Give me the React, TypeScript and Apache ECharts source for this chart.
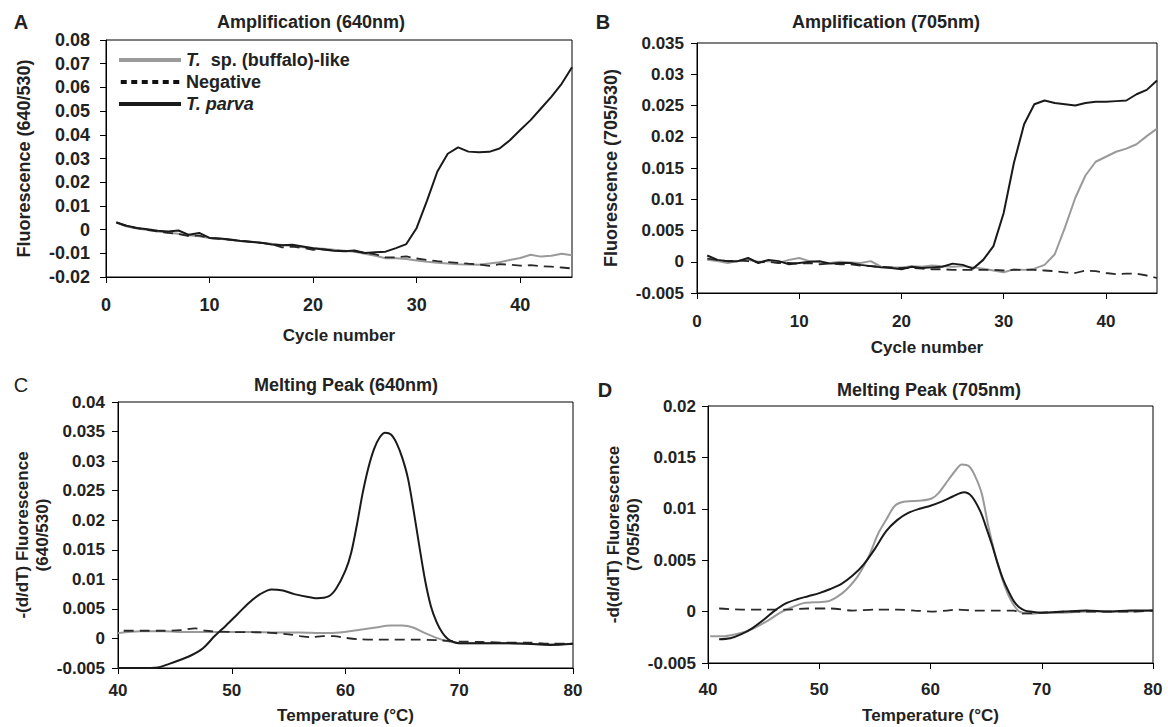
import React, { useEffect, useRef } from "react";
import * as echarts from "echarts";

// ---------- Data ----------
const cycles = Array.from({ length: 45 }, (_, i) => i + 1);

// Panel A – Amplification (640nm)
const ampA_parva = [0.003, 0.0016, 0.0007, 0.0001, -0.0005, -0.0008, -0.0004, -0.0022, -0.0014, -0.0035, -0.0038, -0.0042, -0.0048, -0.0051, -0.0055, -0.0063, -0.0066, -0.0064, -0.0071, -0.0079, -0.0084, -0.0089, -0.0091, -0.0088, -0.0099, -0.0096, -0.0093, -0.0078, -0.0061, 0.0007, 0.0122, 0.0245, 0.032, 0.0347, 0.0329, 0.0326, 0.0328, 0.0342, 0.0377, 0.042, 0.0462, 0.0511, 0.056, 0.0615, 0.0685];
const ampA_buffalo = [0.003, 0.0013, 0.0005, -0.0002, -0.0008, -0.0013, -0.0018, -0.0024, -0.0028, -0.0035, -0.0039, -0.0044, -0.0048, -0.0052, -0.0057, -0.006, -0.0065, -0.0069, -0.0074, -0.0078, -0.0081, -0.0085, -0.0089, -0.0094, -0.0102, -0.011, -0.0121, -0.0121, -0.0124, -0.013, -0.0136, -0.014, -0.0143, -0.0146, -0.0147, -0.0148, -0.0143, -0.0138, -0.0128, -0.012, -0.0106, -0.0114, -0.011, -0.0102, -0.0108];
const ampA_negative = [0.0031, 0.0014, 0.0006, -0.0001, -0.0008, -0.0014, -0.0019, -0.0027, -0.0025, -0.0036, -0.0039, -0.0043, -0.0047, -0.0052, -0.0056, -0.0062, -0.0075, -0.0072, -0.0077, -0.0085, -0.0083, -0.0088, -0.0091, -0.0092, -0.0098, -0.0104, -0.0117, -0.0117, -0.0113, -0.0122, -0.0128, -0.0133, -0.0137, -0.014, -0.0144, -0.0147, -0.0153, -0.0146, -0.0148, -0.0152, -0.015, -0.0155, -0.0156, -0.016, -0.0164];

// Panel B – Amplification (705nm)
const ampB_parva = [0.001, 0.0003, 0.0001, 0.0001, 0.0006, -0.0002, 0.0003, 0.0001, -0.0004, -0.0002, 0, 0.0001, -0.0003, -0.0002, -0.0002, -0.0005, -0.0007, -0.0009, -0.001, -0.0012, -0.0008, -0.001, -0.0009, -0.0008, -0.0003, -0.0005, -0.0011, 0.0003, 0.0025, 0.0078, 0.0158, 0.022, 0.0252, 0.0258, 0.0254, 0.0252, 0.025, 0.0254, 0.0256, 0.0256, 0.0257, 0.0258, 0.0268, 0.0275, 0.029];
const ampB_buffalo = [0.0003, 0.0001, -0.0002, 0.0001, 0.0003, 0, 0.0001, -0.0002, 0.0003, 0.0006, 0.0001, -0.0001, -0.0002, 0, -0.0001, -0.0002, 0.0001, -0.0008, -0.0009, -0.0009, -0.0007, -0.0008, -0.0006, -0.0007, -0.0008, -0.0007, -0.0009, -0.0011, -0.0014, -0.0017, -0.0012, -0.0013, -0.0011, -0.0005, 0.0012, 0.0055, 0.0102, 0.0138, 0.016, 0.0168, 0.0176, 0.0181, 0.0188, 0.0201, 0.0213];
const ampB_negative = [0.0005, 0.0003, 0.0001, 0.0002, 0.0001, -0.0001, 0, -0.0002, -0.0002, -0.0003, -0.0002, -0.0004, -0.0003, -0.0004, -0.0004, -0.0006, -0.0007, -0.0008, -0.0009, -0.001, -0.001, -0.0011, -0.0012, -0.0012, -0.0013, -0.0013, -0.0013, -0.0013, -0.0013, -0.0014, -0.0013, -0.0013, -0.0013, -0.0014, -0.0015, -0.0017, -0.0018, -0.0014, -0.0015, -0.0018, -0.002, -0.0019, -0.0019, -0.0022, -0.0026];

// Panel C – Melting Peak (640nm)
const tempC_parva = [40, 42, 43.5, 44.5, 45.5, 46.5, 47.5, 48.5, 49.5, 50.5, 51.5, 52.5, 53.5, 54.5, 55.5, 56.5, 57.5, 58.5, 59.2, 60, 60.5, 61, 61.5, 62, 62.5, 63, 63.5, 64, 64.5, 65, 65.5, 66, 66.5, 67, 67.5, 68, 68.5, 69, 69.5, 70, 72, 74, 76, 78, 80];
const meltC_parva = [-0.005, -0.005, -0.0049, -0.0043, -0.0036, -0.0028, -0.0016, 0.0004, 0.0022, 0.0041, 0.006, 0.0075, 0.0083, 0.0081, 0.0075, 0.0071, 0.0068, 0.0071, 0.0085, 0.0115, 0.0145, 0.0192, 0.0245, 0.0288, 0.032, 0.034, 0.0348, 0.0345, 0.033, 0.0305, 0.027, 0.0215, 0.0155, 0.0098, 0.0055, 0.0028, 0.001, -0.0001, -0.0006, -0.0008, -0.0008, -0.0008, -0.0009, -0.0011, -0.0009];
const tempC_buffalo = [40, 42, 44, 46, 48, 50, 52, 54, 56, 58, 59.5, 61, 62.5, 64, 65, 66, 67, 68, 69, 70, 72, 74, 76, 78, 80];
const meltC_buffalo = [0.0009, 0.0012, 0.0012, 0.0011, 0.0011, 0.0011, 0.0011, 0.001, 0.001, 0.0009, 0.001, 0.0014, 0.0018, 0.0022, 0.0022, 0.0018, 0.0009, 0.0001, -0.0005, -0.0008, -0.0008, -0.0008, -0.0009, -0.001, -0.0009];
const tempC_negative = [40.5, 42, 44, 45.5, 46.8, 47.7, 50, 53, 55, 56, 57, 58, 59, 60, 61, 63, 66, 68, 70, 72, 74, 76, 78, 80];
const meltC_negative = [0.0013, 0.0013, 0.0013, 0.0014, 0.0017, 0.0013, 0.0011, 0.001, 0.0007, 0.0004, 0.0002, 0.0004, 0.0004, 0.0001, -0.0001, -0.0002, -0.0002, -0.0003, -0.0005, -0.0006, -0.0007, -0.0007, -0.0009, -0.0009];

// Panel D – Melting Peak (705nm)
const tempD_parva = [41, 42, 43, 44, 45, 46, 47, 48, 49, 50, 51, 52, 53, 54, 55, 56, 57, 58, 59, 60, 61, 62, 63, 63.7, 64.5, 65, 65.5, 66, 66.5, 67, 67.5, 68, 68.5, 69, 70, 72, 74, 76, 78, 80];
const meltD_parva = [-0.0027, -0.0026, -0.0022, -0.0016, -0.0008, 0.0001, 0.0008, 0.0012, 0.0015, 0.0018, 0.0022, 0.0027, 0.0035, 0.0046, 0.0061, 0.0078, 0.0089, 0.0096, 0.01, 0.0103, 0.0107, 0.0112, 0.0116, 0.0112, 0.0097, 0.0082, 0.0066, 0.0048, 0.0032, 0.002, 0.001, 0.0004, 0.0001, 0, -0.0001, 0, 0.0001, 0, 0.0001, 0.0001];
const tempD_buffalo = [40.2, 41.3, 42.5, 43.5, 44.5, 45.5, 46.5, 47.5, 48.5, 49.5, 50.8, 51.7, 52.5, 53.5, 54.5, 55.3, 56, 56.8, 57.7, 59.2, 60.1, 60.7, 61.6, 62.3, 62.8, 63.5, 64, 64.6, 65.2, 65.8, 66.5, 67, 67.5, 68, 69, 70, 72, 74, 76, 78, 80];
const meltD_buffalo = [-0.0024, -0.0024, -0.0022, -0.0019, -0.0014, -0.0008, -0.0001, 0.0004, 0.0008, 0.0009, 0.001, 0.0015, 0.0022, 0.0035, 0.0055, 0.0076, 0.0089, 0.0103, 0.0107, 0.0108, 0.011, 0.0115, 0.0128, 0.0138, 0.0143, 0.0141, 0.0132, 0.0115, 0.0083, 0.0056, 0.003, 0.0016, 0.0006, 0, -0.0002, -0.0001, -0.0001, 0, 0, 0, 0.0001];
const tempD_negative = [41, 43, 45, 47, 49, 51, 53, 55, 57, 58.6, 60.1, 61.5, 62.5, 64, 66, 67.5, 68.2, 70, 72, 74, 76, 78, 80];
const meltD_negative = [0.0003, 0.0002, 0.0002, 0.0002, 0.0003, 0.0003, 0.0001, 0.0002, 0.0002, 0.0001, 0, 0.0001, 0.0002, 0.0001, 0.0001, 0.0001, -0.0002, -0.0001, 0, 0, 0, 0, 0.0001];

const seriesNames = ["T. sp. (buffalo)-like", "Negative", "T. parva"];
const panelTitles = ["Amplification (640nm)", "Amplification (705nm)", "Melting Peak (640nm)", "Melting Peak (705nm)"];
const panelLetters = ["A", "B", "C", "D"];
const yNames = ["Fluorescence (640/530)", "Fluorescence (705/530)", "-(d/dT) Fluorescence\n(640/530)", "-d(d/dT) Fluorescence\n(705/530)"];
const xNames = ["Cycle number", "Cycle number", "Temperature (°C)", "Temperature (°C)"];

// ---------- Styling ----------
const FONT = '"Liberation Sans", Arial, sans-serif';
const TXT = "#222";
const GRAY = "#9a9a9a";
const BLACK = "#1a1a1a";
const DASH = "#2a2a2a";

const zip = (xs: number[], ys: number[]) => xs.map((x, i) => [x, ys[i]]);

export default function App() {
  const ref = useRef<HTMLDivElement>(null);
  useEffect(() => {
    if (!ref.current) return;
    const chart = echarts.init(ref.current, undefined, { renderer: "svg" });

    const grids = [
      { left: 106, top: 40, width: 466, height: 237 },
      { left: 697, top: 43, width: 460, height: 250 },
      { left: 118, top: 402, width: 455, height: 266 },
      { left: 708, top: 406, width: 445, height: 257 },
    ];
    const xRanges = [
      { min: 0, max: 45, interval: 10 },
      { min: 0, max: 45, interval: 10 },
      { min: 40, max: 80, interval: 10 },
      { min: 40, max: 80, interval: 10 },
    ];
    const yRanges = [
      { min: -0.02, max: 0.08, interval: 0.01 },
      { min: -0.005, max: 0.035, interval: 0.005 },
      { min: -0.005, max: 0.04, interval: 0.005 },
      { min: -0.005, max: 0.02, interval: 0.005 },
    ];
    const tickFont = [18, 17, 17, 17];
    const xLabelMargins = [19, 20, 14, 18];
    const xNameGaps = [50, 46, 39, 44];
    const yLabelMargins = [16, 13, 13, 12];
    const yNameGaps = [72, 76, 64, 64];

    const axisCommon = {
      axisTick: { show: true, inside: false, length: 6, lineStyle: { color: "#000" } },
      splitLine: { show: false },
    };

    const xAxis = grids.map((_, i) => ({
      type: "value",
      gridIndex: i,
      ...xRanges[i],
      ...axisCommon,
      axisLine: { show: true, onZero: false, lineStyle: { color: "#000", width: 1 } },
      axisLabel: {
        showMaxLabel: i < 2 ? false : true,
        margin: xLabelMargins[i],
        fontSize: tickFont[i],
        fontWeight: "bold",
        color: TXT,
        fontFamily: FONT,
      },
      name: xNames[i],
      nameLocation: "middle",
      nameGap: xNameGaps[i],
      nameTextStyle: { fontSize: 17, fontWeight: "bold", color: TXT, fontFamily: FONT },
    }));

    const yAxis = grids.map((_, i) => ({
      type: "value",
      gridIndex: i,
      ...yRanges[i],
      ...axisCommon,
      axisLine: { show: true, onZero: false, lineStyle: { color: "#000", width: 1 } },
      axisLabel: {
        margin: yLabelMargins[i],
        fontSize: tickFont[i],
        fontWeight: "bold",
        color: TXT,
        fontFamily: FONT,
      },
      name: yNames[i],
      nameLocation: "middle",
      nameRotate: 90,
      nameGap: yNameGaps[i],
      nameTextStyle: {
        fontSize: i < 2 ? 18 : 17,
        lineHeight: 20,
        fontWeight: "bold",
        color: TXT,
        fontFamily: FONT,
      },
    }));

    const mk = (name: string, idx: number, xs: number[], ys: number[], smooth: boolean) => {
      const isNeg = name === "Negative";
      const color = name === "T. parva" ? BLACK : isNeg ? DASH : GRAY;
      return {
        type: "line",
        name,
        xAxisIndex: idx,
        yAxisIndex: idx,
        data: zip(xs, ys),
        symbol: "none",
        showSymbol: false,
        smooth: smooth ? 0.3 : false,
        z: name === "T. parva" ? 4 : isNeg ? 3 : 2,
        itemStyle: { color },
        lineStyle: isNeg
          ? { color, width: 1.8, type: [10, 6] }
          : { color, width: 2 },
      };
    };

    const series = [
      mk(seriesNames[0], 0, cycles, ampA_buffalo, false),
      mk(seriesNames[1], 0, cycles, ampA_negative, false),
      mk(seriesNames[2], 0, cycles, ampA_parva, false),
      mk(seriesNames[0], 1, cycles, ampB_buffalo, false),
      mk(seriesNames[1], 1, cycles, ampB_negative, false),
      mk(seriesNames[2], 1, cycles, ampB_parva, false),
      mk(seriesNames[0], 2, tempC_buffalo, meltC_buffalo, true),
      mk(seriesNames[1], 2, tempC_negative, meltC_negative, true),
      mk(seriesNames[2], 2, tempC_parva, meltC_parva, true),
      mk(seriesNames[0], 3, tempD_buffalo, meltD_buffalo, true),
      mk(seriesNames[1], 3, tempD_negative, meltD_negative, true),
      mk(seriesNames[2], 3, tempD_parva, meltD_parva, true),
    ];

    const titlePos = [
      [311, 22],
      [886, 22],
      [346, 385],
      [929, 390],
    ];
    const letterPos = [
      [21, 22],
      [603, 22],
      [21, 385],
      [605, 390],
    ];
    const graphic: any[] = [];
    panelTitles.forEach((t, i) => {
      graphic.push({
        type: "text",
        x: titlePos[i][0],
        y: titlePos[i][1],
        style: {
          text: t,
          fill: TXT,
          font: `bold 18px ${FONT}`,
          align: "center",
          verticalAlign: "middle",
        },
      });
      graphic.push({
        type: "text",
        x: letterPos[i][0],
        y: letterPos[i][1],
        style: {
          text: panelLetters[i],
          fill: TXT,
          font: `${i === 2 ? "normal" : "bold"} 20px ${FONT}`,
          align: "center",
          verticalAlign: "middle",
        },
      });
    });

    const dottedIcon =
      "path://M0 0h6v4H0z M10.5 0h6v4h-6z M21 0h6v4h-6z M31.5 0h6v4h-6z M42 0h6v4h-6z M52.5 0h6v4h-6z";

    chart.setOption({
      animation: false,
      backgroundColor: "#fff",
      grid: grids.map((g) => ({
        ...g,
        containLabel: false,
        show: true,
        borderColor: "#000",
        borderWidth: 1,
        backgroundColor: "transparent",
      })),
      xAxis,
      yAxis,
      legend: {
        show: true,
        orient: "vertical",
        left: 114,
        top: 46,
        itemWidth: 62,
        itemHeight: 4,
        itemGap: 4,
        selectedMode: false,
        data: [
          { name: seriesNames[0], icon: "rect", itemStyle: { color: GRAY } },
          { name: seriesNames[1], icon: dottedIcon, itemStyle: { color: "#111" } },
          { name: seriesNames[2], icon: "rect", itemStyle: { color: BLACK } },
        ],
        formatter: (name: string) => {
          if (name === "T. parva") return "{i|T. parva}";
          if (name === "Negative") return "{n|Negative}";
          return "{i|T.}{n|  sp. (buffalo)-like}";
        },
        textStyle: {
          fontSize: 18,
          fontWeight: "bold",
          color: TXT,
          fontFamily: FONT,
          lineHeight: 18,
          rich: {
            i: { fontSize: 18, fontWeight: "bold", fontStyle: "italic", color: TXT, fontFamily: FONT, lineHeight: 18 },
            n: { fontSize: 18, fontWeight: "bold", color: TXT, fontFamily: FONT, lineHeight: 18 },
          },
        },
      },
      graphic,
      series,
    });

    return () => chart.dispose();
  }, []);

  return (
    <div
      ref={ref}
      style={{ position: "absolute", left: 0, top: 0, width: 1168, height: 727, background: "#fff" }}
    />
  );
}
